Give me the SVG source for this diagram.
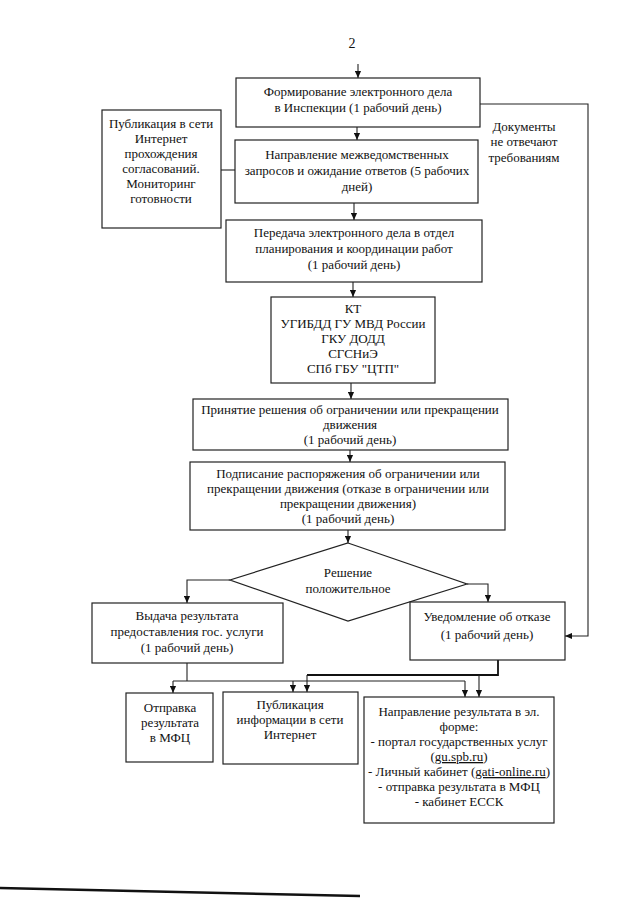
<svg xmlns="http://www.w3.org/2000/svg" width="640" height="905" viewBox="0 0 640 905" font-family="'Liberation Serif', 'DejaVu Serif', serif">
<defs>
<marker id="arr" viewBox="0 0 8 8" refX="8" refY="4" markerWidth="7" markerHeight="7" markerUnits="userSpaceOnUse" orient="auto">
<path d="M0,0.5 L8,4 L0,7.5 Z" fill="#111"/>
</marker>
</defs>
<style>
.box{fill:#fff;stroke:#222;stroke-width:1.2}
.ln{fill:none;stroke:#222;stroke-width:1.1}
.thick{fill:none;stroke:#111;stroke-width:1.8}
text{font-family:'Liberation Serif','DejaVu Serif',serif;font-size:13px;fill:#111;text-anchor:middle}
</style>
<rect width="640" height="905" fill="#fff"/>
<text x="352" y="48" style="font-size:14px">2</text>

<g id="connectors">
<path class="ln" d="M358,64 V78" marker-end="url(#arr)"/>
<path class="ln" d="M480,104 H588 V636 H565" marker-end="url(#arr)"/>
<path class="ln" d="M357,127 V140" marker-end="url(#arr)"/>
<path class="ln" d="M221,170 H235"/>
<path class="ln" d="M354,203 V220" marker-end="url(#arr)"/>
<path class="ln" d="M353,282 V297" marker-end="url(#arr)"/>
<path class="ln" d="M351,383 V399" marker-end="url(#arr)"/>
<path class="ln" d="M350,450 V462" marker-end="url(#arr)"/>
<path class="ln" d="M348,530 V543" marker-end="url(#arr)"/>
<path class="ln" d="M230,580 H187 V603" marker-end="url(#arr)"/>
<path class="ln" d="M467,584 H488 V602" marker-end="url(#arr)"/>
<path class="ln" d="M187,663 V681"/>
<path class="ln" d="M173,681 H465"/>
<path class="ln" d="M173,681 V693" marker-end="url(#arr)"/>
<path class="ln" d="M293,681 V692" marker-end="url(#arr)"/>
<path class="ln" d="M465,681 V697" marker-end="url(#arr)"/>
<path class="thick" d="M498,660 V675 H307"/>
<path class="ln" d="M307,675 V692" marker-end="url(#arr)"/>
<path class="ln" d="M479,675 V697" marker-end="url(#arr)"/>
</g>

<g id="n1"><rect class="box" x="236" y="78" width="244" height="49"/>
<text x="358" y="96">Формирование электронного дела</text>
<text x="358" y="112">в Инспекции (1 рабочий день)</text></g>

<g id="n_docs">
<text x="524" y="131">Документы</text>
<text x="524" y="146">не отвечают</text>
<text x="524" y="162">требованиям</text></g>

<g id="n2"><rect class="box" x="235" y="140" width="243" height="63"/>
<text x="357" y="159">Направление межведомственных</text>
<text x="357" y="175">запросов и ожидание ответов (5 рабочих</text>
<text x="357" y="191">дней)</text></g>

<g id="n_pub1"><rect class="box" x="102" y="110" width="119" height="118"/>
<text x="161" y="128">Публикация в сети</text>
<text x="161" y="143">Интернет</text>
<text x="161" y="158">прохождения</text>
<text x="161" y="173">согласований.</text>
<text x="161" y="188">Мониторинг</text>
<text x="161" y="203">готовности</text></g>

<g id="n3"><rect class="box" x="226" y="220" width="256" height="62"/>
<text x="354" y="237">Передача электронного дела в отдел</text>
<text x="354" y="253">планирования и координации работ</text>
<text x="354" y="269">(1 рабочий день)</text></g>

<g id="n4"><rect class="box" x="271" y="297" width="164" height="86"/>
<text x="353" y="313">КТ</text>
<text x="353" y="328">УГИБДД ГУ МВД России</text>
<text x="353" y="343">ГКУ ДОДД</text>
<text x="353" y="358">СГСНиЭ</text>
<text x="353" y="373">СПб ГБУ "ЦТП"</text></g>

<g id="n5"><rect class="box" x="193" y="399" width="315" height="51"/>
<text x="350" y="414">Принятие решения об ограничении или прекращении</text>
<text x="350" y="429">движения</text>
<text x="350" y="444">(1 рабочий день)</text></g>

<g id="n6"><rect class="box" x="190" y="462" width="315" height="68"/>
<text x="348" y="478">Подписание распоряжения об ограничении или</text>
<text x="348" y="493">прекращении движения (отказе в ограничении или</text>
<text x="348" y="508">прекращении движения)</text>
<text x="348" y="523">(1 рабочий день)</text></g>

<g id="decision"><polygon class="box" points="348,543 467,584 348,621 230,580"/>
<text x="348" y="577">Решение</text>
<text x="348" y="593">положительное</text></g>

<g id="n_issue"><rect class="box" x="92" y="603" width="191" height="60"/>
<text x="187" y="620">Выдача результата</text>
<text x="187" y="636">предоставления гос. услуги</text>
<text x="187" y="652">(1 рабочий день)</text></g>

<g id="n_refuse"><rect class="box" x="410" y="602" width="155" height="58"/>
<text x="487" y="621">Уведомление об отказе</text>
<text x="487" y="639">(1 рабочий день)</text></g>

<g id="n_mfc"><rect class="box" x="126" y="693" width="87" height="69"/>
<text x="170" y="712">Отправка</text>
<text x="170" y="727">результата</text>
<text x="170" y="742">в МФЦ</text></g>

<g id="n_pub2"><rect class="box" x="223" y="692" width="135" height="72"/>
<text x="290" y="709">Публикация</text>
<text x="290" y="724">информации в сети</text>
<text x="290" y="739">Интернет</text></g>

<g id="n_el"><rect class="box" x="364" y="697" width="190" height="126"/>
<text x="459" y="716">Направление результата в эл.</text>
<text x="459" y="731">форме:</text>
<text x="459" y="746">- портал государственных услуг</text>
<text x="459" y="761">(<tspan text-decoration="underline">gu.spb.ru</tspan>)</text>
<text x="459" y="776">- Личный кабинет (<tspan text-decoration="underline">gati-online.ru</tspan>)</text>
<text x="459" y="791">- отправка результата в МФЦ</text>
<text x="459" y="806">- кабинет ЕССК</text></g>

<path d="M0,888 L360,896" stroke="#111" stroke-width="2.5" fill="none"/>
</svg>
